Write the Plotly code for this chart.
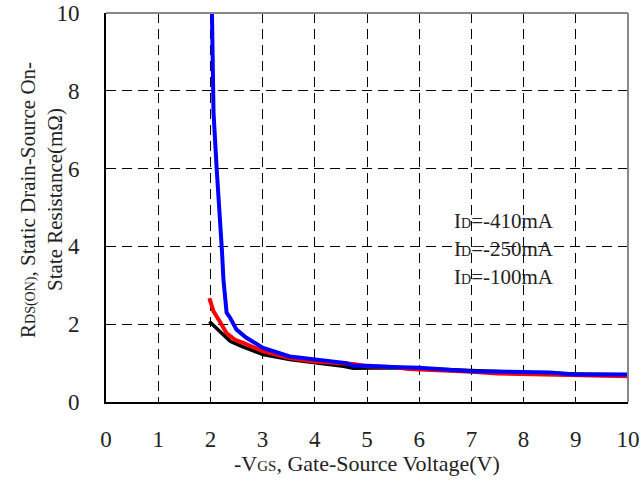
import plotly.graph_objects as go

# data
vgs_410 = [2.03, 2.06, 2.12, 2.18, 2.22, 2.25, 2.28, 2.31, 2.38, 2.5, 2.69, 3.01, 3.52, 3.97, 4.61, 4.74, 5.0, 5.47, 6.0, 7.0, 8.0, 8.5, 9.0, 10.0]
r_410 = [10.0, 7.44, 6.0, 4.9, 3.92, 3.14, 2.54, 2.3, 2.16, 1.86, 1.65, 1.39, 1.17, 1.09, 1.0, 0.93, 0.93, 0.9, 0.88, 0.79, 0.76, 0.76, 0.71, 0.71]

vgs_250 = [1.98, 2.06, 2.18, 2.31, 2.47, 2.63, 3.01, 3.52, 3.97, 4.61, 4.74, 5.0, 5.5, 5.8, 6.0, 7.0, 7.5, 8.0, 9.0, 10.0]
r_250 = [2.67, 2.33, 2.07, 1.77, 1.6, 1.52, 1.30, 1.13, 1.04, 1.0, 0.98, 0.92, 0.9, 0.85, 0.84, 0.78, 0.73, 0.72, 0.7, 0.66]

vgs_100 = [1.98, 2.25, 2.38, 2.6, 3.01, 3.52, 3.97, 4.55, 4.74, 5.0, 5.5, 6.0, 7.0, 8.0, 9.0, 10.0]
r_100 = [2.07, 1.73, 1.56, 1.43, 1.22, 1.09, 1.02, 0.92, 0.87, 0.88, 0.88, 0.86, 0.8, 0.76, 0.72, 0.7]

legend_labels = ["I<span style='font-size:14px'>D</span>=-410mA",
                 "I<span style='font-size:14px'>D</span>=-250mA",
                 "I<span style='font-size:14px'>D</span>=-100mA"]

y_title_lines = ["R<span style='font-size:14px'>DS(ON)</span>, Static Drain-Source On-",
                 "State Resistance(mΩ)"]
x_title = "-V<span style='font-size:15px'>GS</span>, Gate-Source Voltage(V)"

FONT = "Liberation Serif"
TXT = "#222"

fig = go.Figure()
fig.add_trace(go.Scatter(x=vgs_100, y=r_100, mode="lines", line=dict(color="black", width=3.5), showlegend=False))
fig.add_trace(go.Scatter(x=vgs_250, y=r_250, mode="lines", line=dict(color="#ff0000", width=4), showlegend=False))
fig.add_trace(go.Scatter(x=vgs_410, y=r_410, mode="lines", line=dict(color="#0000ff", width=4), showlegend=False))

axis_common = dict(
    range=[0, 10], showgrid=True, gridcolor="black", gridwidth=1, griddash="10px,6px",
    zeroline=False, showline=True, linecolor="black", linewidth=2, ticks="",
    tickfont=dict(family=FONT, size=23, color=TXT), automargin=False,
)
fig.update_xaxes(**axis_common, dtick=1, tick0=0, ticklabelstandoff=15)
fig.update_yaxes(**axis_common, dtick=2, tick0=0, ticklabelstandoff=20)

# grey top and right borders
fig.add_shape(type="line", xref="paper", yref="paper", x0=0, x1=1, y0=1, y1=1,
              line=dict(color="#888", width=2))
fig.add_shape(type="line", xref="paper", yref="paper", x0=1, x1=1, y0=0, y1=1,
              line=dict(color="#888", width=2))

for lab, yv in zip(legend_labels, [4.65, 3.93, 3.21]):
    fig.add_annotation(x=6.63, y=yv, xref="x", yref="y", text=lab, showarrow=False,
                       xanchor="left", yanchor="middle",
                       font=dict(family=FONT, size=21, color=TXT))

# plot area: x 106..628, y 13..402 (height 389, width 522)
fig.add_annotation(xref="paper", yref="paper", x=0.5, y=-0.157, yanchor="middle", xanchor="center",
                   showarrow=False, text=x_title,
                   font=dict(family=FONT, size=22, color=TXT))
for txt, px in zip(y_title_lines, [28, 55]):
    fig.add_annotation(xref="paper", yref="paper", x=(px - 106) / 522, y=(402 - 200) / 389,
                       xanchor="center", yanchor="middle",
                       showarrow=False, textangle=-90, text=txt,
                       font=dict(family=FONT, size=21, color=TXT))

fig.update_layout(
    width=641, height=481,
    margin=dict(l=106, r=13, t=13, b=79),
    paper_bgcolor="white", plot_bgcolor="white",
    font=dict(family=FONT),
)
fig.write_html("out.html")
